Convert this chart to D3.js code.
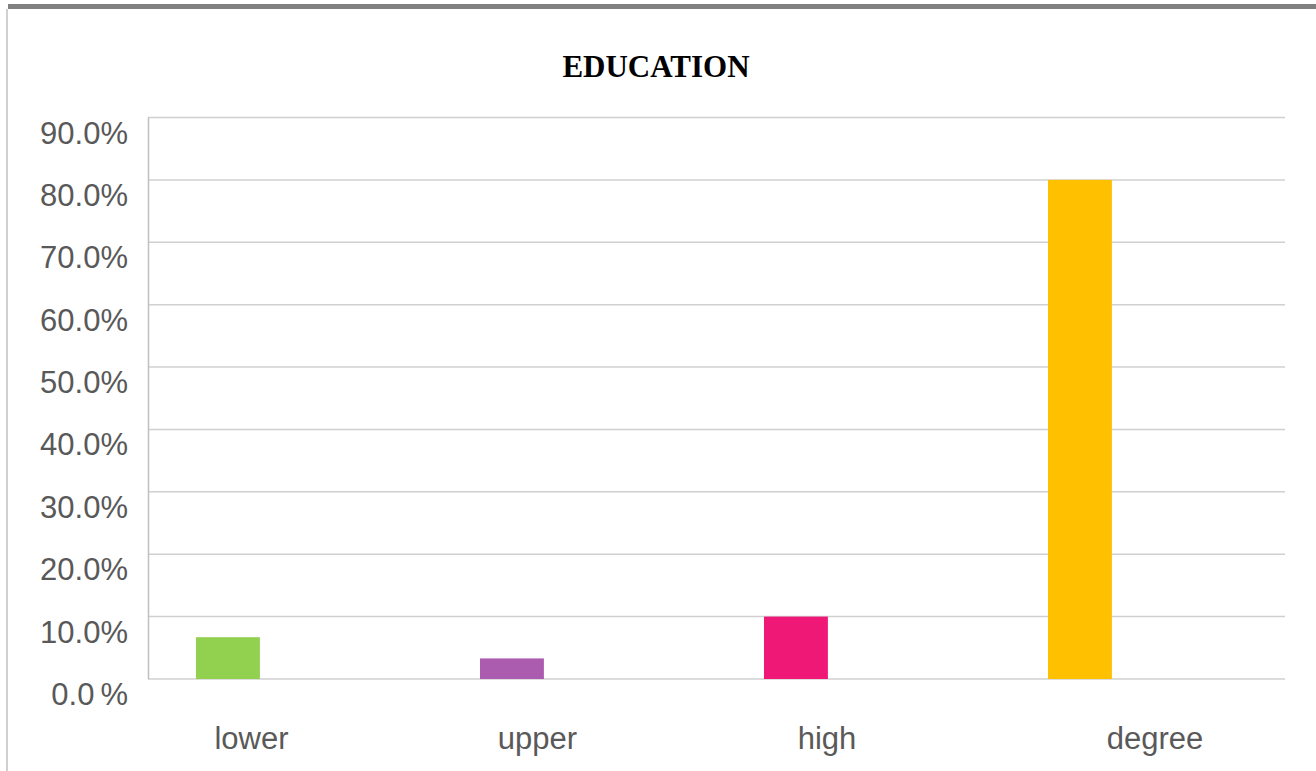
<!DOCTYPE html>
<html>
<head>
<meta charset="utf-8">
<script src="https://cdn.jsdelivr.net/npm/d3@7"></script>
<style>
  html, body { margin: 0; padding: 0; background: #fff; }
  svg { display: block; }
</style>
</head>
<body>
<svg id="chart" width="1316" height="771"></svg>
<script>
// ---- data ----
const categories = ["lower", "upper", "high", "degree"];
const values = [0.067, 0.033, 0.100, 0.800];
const barColors = ["#92D050", "#AB5CAE", "#F01877", "#FFC000"];
const tickValues = [0, 0.1, 0.2, 0.3, 0.4, 0.5, 0.6, 0.7, 0.8, 0.9];
const title = "EDUCATION";

// ---- layout ----
const W = 1316, H = 771;
const plotLeft = 148, plotRight = 1285, plotTop = 117.5, plotBottom = 679;
const labelShift = [-38.5, -36.5, -31, 13];
const textColor = "#595959";

const svg = d3.select("#chart");
svg.append("rect").attr("width", W).attr("height", H).attr("fill", "#fff");

// outer frame
svg.append("rect").attr("x", 8).attr("y", 4).attr("width", W - 8).attr("height", 5).attr("fill", "#808080");
svg.append("line").attr("x1", 7).attr("x2", 7).attr("y1", 9).attr("y2", H)
  .attr("stroke", "#d0d0d0").attr("stroke-width", 2);

const x = d3.scaleBand().domain(categories).range([plotLeft, plotRight - 1]);
const y = d3.scaleLinear().domain([0, 0.9]).range([plotBottom, plotTop]);
const bw = x.bandwidth();

// gridlines
svg.append("g").selectAll("line").data(tickValues).join("line")
  .attr("x1", plotLeft).attr("x2", plotRight)
  .attr("y1", d => y(d)).attr("y2", d => y(d))
  .attr("stroke", "#d0d0d0").attr("stroke-width", 1.5);

// y axis line
svg.append("line").attr("x1", plotLeft + 0.5).attr("x2", plotLeft + 0.5)
  .attr("y1", plotTop).attr("y2", plotBottom)
  .attr("stroke", "#bfbfbf").attr("stroke-width", 1.5);

// y tick labels
const fmt = d3.format(".1%");
const yl = svg.append("g").selectAll("text").data(tickValues).join("text")
  .attr("x", 128).attr("y", d => y(d) + 26)
  .attr("text-anchor", "end")
  .attr("font-family", "'Liberation Sans', Arial, sans-serif")
  .attr("font-size", 31).attr("fill", textColor);
yl.each(function(d) {
  const s = fmt(d);
  const t = d3.select(this);
  if (d === 0) {
    t.append("tspan").text(s.slice(0, -1));
    t.append("tspan").attr("dx", 6).text("%");
  } else {
    t.text(s);
  }
});

// bars
svg.append("g").selectAll("rect").data(values).join("rect")
  .attr("x", (d, i) => x(categories[i]) + bw * 0.169)
  .attr("width", bw * 0.225)
  .attr("y", d => y(d))
  .attr("height", d => y(0) - y(d))
  .attr("fill", (d, i) => barColors[i]);

// category labels
svg.append("g").selectAll("text").data(categories).join("text")
  .attr("x", (d, i) => x(d) + bw / 2 + labelShift[i])
  .attr("y", 749)
  .attr("text-anchor", "middle")
  .attr("font-family", "'Liberation Sans', Arial, sans-serif")
  .attr("font-size", 31).attr("fill", textColor)
  .text(d => d);

// title
svg.append("text").attr("x", 656).attr("y", 76.5)
  .attr("text-anchor", "middle")
  .attr("font-family", "'Liberation Serif', 'Times New Roman', serif")
  .attr("font-weight", "bold").attr("font-size", 31).attr("fill", "#000")
  .text(title);
</script>
</body>
</html>
